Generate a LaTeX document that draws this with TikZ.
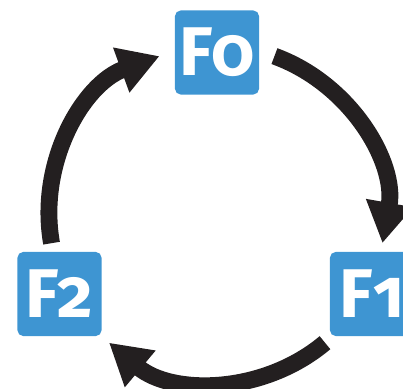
\documentclass[tikz,border=0pt]{standalone}
\usepackage{fontspec}
\newfontfamily\boxfont[Numbers=OldStyle]{Fira Sans}
\usepackage{tikz}
\usetikzlibrary{arrows.meta,calc}
\definecolor{fblue}{RGB}{62,149,210}
\definecolor{fink}{RGB}{35,31,32}
\tikzset{fbox/.style={fill=fblue,rounded corners=4pt,minimum size=2.1cm,inner sep=0pt,
  text=white,font=\boxfont\bfseries\fontsize{49}{49}\selectfont}}

\begin{document}
\begin{tikzpicture}[x=0.025cm,y=0.025cm,>={Triangle[length=29pt,width=32pt]}]
\useasboundingbox (0,0) rectangle (403,389);
\coordinate (c) at (217,175);
\node[fbox] (f0) at (217,336.5) {F0};
\node[fbox] (f1) at (372,95) {F1};
\node[fbox] (f2) at (59.5,95) {F2};
\foreach \a/\b in {70/-10,-50/-130,190/110}
  \draw[->,line width=12pt,fink] ($(c)+(\a:168)$) arc[start angle=\a,end angle=\b,radius=168];
\end{tikzpicture}
\end{document}
